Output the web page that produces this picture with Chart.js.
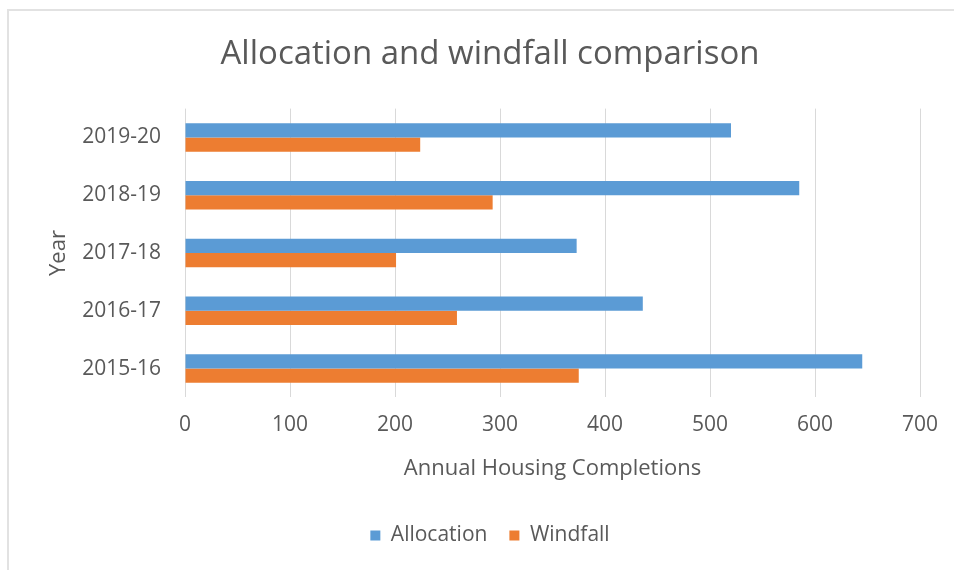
<!DOCTYPE html>
<html>
<head>
<meta charset="utf-8">
<script src="https://cdn.jsdelivr.net/npm/chart.js"></script>
<style>
  html, body { margin: 0; padding: 0; background: #fff; overflow: hidden; }
  body { width: 954px; height: 570px; position: relative; }
  .frame {
    position: absolute; left: 7px; top: 9px; width: 1000px; height: 600px;
    border-left: 2px solid #e2e2e2; border-top: 2px solid #e2e2e2;
  }
  .wrap { position: absolute; left: 0; top: 0; width: 980px; height: 580px; }
</style>
</head>
<body>
<div class="frame"></div>
<div class="wrap"><canvas id="housingChart"></canvas></div>
<script>
const years = ["2019-20", "2018-19", "2017-18", "2016-17", "2015-16"];
const allocation = [520, 585, 373, 436, 645];
const windfall = [224, 293, 201, 259, 375];
const xTicks = [0, 100, 200, 300, 400, 500, 600, 700];

const textColor = "#595959";
const gridColor = "#d9d9d9";

Chart.defaults.font.family = "'Open Sans', sans-serif";
Chart.defaults.color = textColor;

const ctx = document.getElementById("housingChart").getContext("2d");

new Chart(ctx, {
  type: "bar",
  data: {
    labels: years,
    datasets: [
      {
        label: "Allocation",
        data: allocation,
        backgroundColor: "#5b9bd5",
        categoryPercentage: 0.49,
        barPercentage: 1
      },
      {
        label: "Windfall",
        data: windfall,
        backgroundColor: "#ed7d31",
        categoryPercentage: 0.49,
        barPercentage: 1
      }
    ]
  },
  options: {
    indexAxis: "y",
    responsive: true,
    maintainAspectRatio: false,
    animation: false,
    layout: {
      padding: { left: 0, right: 0, top: 0, bottom: 24 }
    },
    plugins: {
      title: {
        display: true,
        text: "Allocation and windfall comparison",
        color: textColor,
        font: { size: 33, weight: "normal" },
        padding: { top: 35, bottom: 34 }
      },
      legend: {
        position: "bottom",
        labels: {
          boxWidth: 10,
          boxHeight: 10,
          padding: 22,
          color: textColor,
          font: { size: 21 }
        }
      },
      tooltip: { enabled: false }
    },
    scales: {
      x: {
        min: 0,
        max: 700,
        afterBuildTicks: scale => {
          scale.ticks = xTicks.map(v => ({ value: v }));
        },
        grid: { color: gridColor, drawTicks: false },
        border: { display: false },
        ticks: { padding: 15, color: textColor, font: { size: 21 } },
        title: {
          display: true,
          text: "Annual Housing Completions",
          color: textColor,
          font: { size: 22 },
          padding: { top: 3, bottom: 21 }
        }
      },
      y: {
        grid: { display: false, drawTicks: false },
        border: { display: false },
        ticks: { padding: 24, color: textColor, font: { size: 21 } },
        title: {
          display: true,
          text: "Year",
          color: textColor,
          font: { size: 22 },
          padding: { top: 46, bottom: 0 }
        },
        afterFit: scale => {
          scale.width = 185;
        }
      },
      // empty right-hand axis, only keeps the plot's right edge at 700
      yRight: {
        type: "linear",
        position: "right",
        grid: { display: false, drawTicks: false },
        border: { display: false },
        ticks: { display: false },
        afterFit: scale => {
          scale.width = 60;
        }
      }
    }
  }
});
</script>
</body>
</html>
